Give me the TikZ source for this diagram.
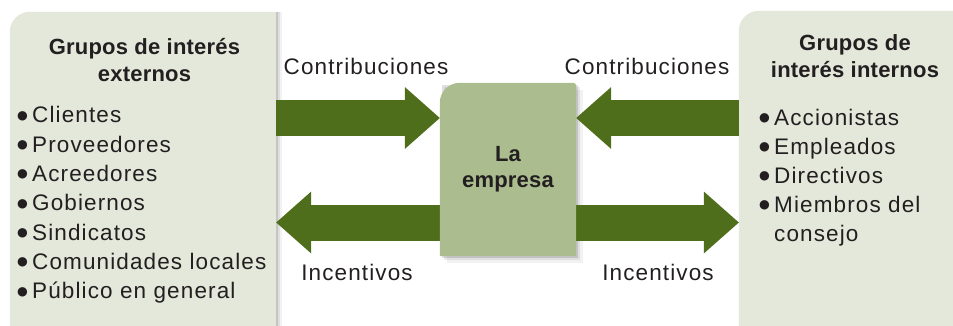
\documentclass[tikz,border=0pt]{standalone}
\usepackage{fontspec}
\setmainfont{Liberation Sans}
\newfontfamily\regf[LetterSpace=5]{Liberation Sans}
\newfontfamily\titf[LetterSpace=1]{Liberation Sans}
\newfontfamily\symf{DejaVu Sans}
\usetikzlibrary{arrows.meta,calc}
\definecolor{boxbg}{HTML}{E3E8DA}
\definecolor{midbg}{HTML}{ABBC8F}
\definecolor{arrowgreen}{HTML}{4F6E1B}
\definecolor{ink}{HTML}{231F20}
\newcommand\bul{\makebox[15pt][l]{\symf\fontsize{12.3}{12.3}\selectfont\raisebox{3.8pt}{●}}}
\begin{document}
\begin{tikzpicture}[x=1pt,y=-1pt,
  every node/.style={inner sep=0pt, text=ink},
  lbl/.style={font=\regf\fontsize{22.5}{26}\selectfont, anchor=base},
  item/.style={font=\regf\fontsize{22.5}{26}\selectfont, anchor=base west},
  title/.style={font=\titf\bfseries\fontsize{22}{26}\selectfont, anchor=base},
  flow/.style={draw=arrowgreen, line width=36pt, -{Triangle[length=35pt,width=62pt,line width=0pt]}},
]
\useasboundingbox (0,0) rectangle (953,326);
% frames
\node[minimum width=266pt, minimum height=318pt] (L) at (143,171) {};
\node[minimum width=221pt, minimum height=318pt] (R) at (849.5,170) {};
\node[minimum width=136pt, minimum height=173pt] (C) at (508,169.5) {};
% left box
\foreach \s/\o in {2/0.12,4/0.08,6/0.05}
  \fill[black,opacity=\o] (L.north east) rectangle ([xshift=\s pt]L.south east);
\fill[boxbg] (L.south west) -- ([yshift=-20pt]L.north west) arc[start angle=180,end angle=90,radius=20pt] -- (L.north east) -- (L.south east) -- cycle;
% right box
\fill[boxbg] (R.south west) -- ([yshift=-20pt]R.north west) arc[start angle=180,end angle=90,radius=20pt] -- (R.north east) -- (R.south east) -- cycle;
% centre box shadow
\foreach \s/\o in {2/0.12,4/0.08,7/0.05}
  \fill[black,opacity=\o] ([xshift=\s pt,yshift=-\s pt]C.south west) rectangle ([xshift=\s pt,yshift=-\s pt]C.north east);
% arrows
\coordinate (top) at (0,118);
\coordinate (bot) at (0,222.5);
\draw[flow] (L.east |- top) -- (C.west |- top);
\draw[flow] (R.west |- top) -- (C.east |- top);
\draw[flow] (C.west |- bot) -- (L.east |- bot);
\draw[flow] (C.east |- bot) -- (R.west |- bot);
% centre box
\fill[midbg] (C.south west) -- ([yshift=-20pt]C.north west) arc[start angle=180,end angle=90,radius=20pt] -- ([xshift=-3pt]C.north east) arc[start angle=90,end angle=0,radius=3pt] -- (C.south east) -- cycle;
% labels
\node[lbl] (c1) at (366,75) {Contribuciones};
\node[lbl] (c2) at (647,75) {Contribuciones};
\node[lbl] (i1) at (357,280) {Incentivos};
\node[lbl] (i2) at (658,280) {Incentivos};
\node[title] (t1a) at (144.5,55) {Grupos de interés};
\node[title] (t1b) at (144.5,82) {externos};
\node[title] (t2a) at (855,51) {Grupos de};
\node[title] (t2b) at (855,78) {interés internos};
\node[title] (e1) at (508,161) {La};
\node[title] (e2) at (508,187) {empresa};
% lists
\foreach \t [count=\k from 0] in {Clientes,Proveedores,Acreedores,Gobiernos,Sindicatos,Comunidades locales,Público en general}
  \node[item] (le\k) at (17,123+\k*29.3) {\bul\t};
\foreach \t [count=\k from 0] in {Accionistas,Empleados,Directivos,Miembros del}
  \node[item] (ri\k) at (759,125.5+\k*29) {\bul\t};
\node[item] (ri4) at (774,241.5) {consejo};
\end{tikzpicture}
\end{document}
